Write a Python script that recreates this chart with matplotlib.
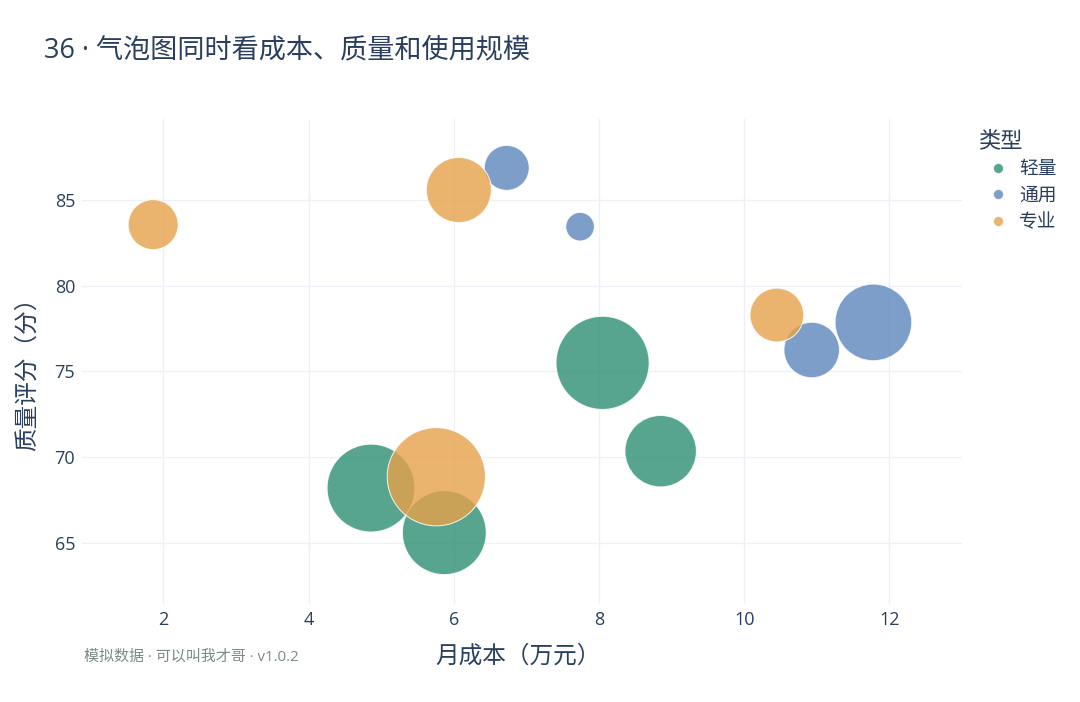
import matplotlib.pyplot as plt
from matplotlib.lines import Line2D

plt.rcParams['font.family'] = ['Open Sans', 'Noto Sans CJK SC', 'DejaVu Sans']

# data
categories = ['轻量', '通用', '专业']
colors = {'轻量': '#2d8e73', '通用': '#5b86bb', '专业': '#e7a14a'}

cost = [8.05, 8.85, 4.86, 5.87,
        6.73, 7.74, 10.93, 11.78,
        1.86, 6.07, 10.45, 5.76]
quality = [75.5, 70.35, 68.2, 65.6,
           86.87, 83.44, 76.25, 77.86,
           83.56, 85.58, 78.29, 68.86]
usage = [90, 53, 80, 73,
         21, 8.5, 32, 61,
         26, 44, 30, 100]
kind = ['轻量'] * 4 + ['通用'] * 4 + ['专业'] * 4

text_color = '#2a3f5f'
grid_color = '#eef0f7'
size_scale = 50

fig = plt.figure(figsize=(10.8, 7.02), dpi=100)
ax = fig.add_axes([82 / 1080, 1 - 604 / 702, 880 / 1080, 485 / 702])

for cat in categories:
    xs = [c for c, k in zip(cost, kind) if k == cat]
    ys = [q for q, k in zip(quality, kind) if k == cat]
    ss = [u * size_scale for u, k in zip(usage, kind) if k == cat]
    ax.scatter(xs, ys, s=ss, color=colors[cat], alpha=0.8,
               edgecolors='white', linewidths=0.8, zorder=3)

ax.set_xlim(0.88, 13.0)
ax.set_ylim(61.44, 89.72)
ax.set_xticks([2, 4, 6, 8, 10, 12])
ax.set_yticks([65, 70, 75, 80, 85])
ax.grid(True, color=grid_color, linewidth=1)
ax.set_axisbelow(True)
for sp in ax.spines.values():
    sp.set_visible(False)
ax.tick_params(length=0, labelsize=13, labelcolor=text_color, pad=5)

# axis titles placed in figure coordinates like the reference
fig.text(518 / 1080, 1 - 657 / 702, '月成本（万元）', fontsize=17,
         color=text_color, ha='center', va='center')
fig.text(28 / 1080, 1 - 368 / 702, '质量评分（分）', fontsize=17,
         color=text_color, ha='center', va='center', rotation=90)

fig.text(44 / 1080, 1 - 50 / 702, '36 · 气泡图同时看成本、质量和使用规模',
         fontsize=19.5, color=text_color, va='center', ha='left')
fig.text(84 / 1080, 1 - 657 / 702, '模拟数据 · 可以叫我才哥 · v1.0.2',
         fontsize=10.8, color='#7a8a85', va='center', ha='left')

handles = [Line2D([], [], marker='o', linestyle='none', markersize=7.5,
                  markerfacecolor=colors[c], markeredgecolor='white',
                  alpha=0.8, label=c) for c in categories]
leg = ax.legend(handles=handles, title='类型', loc='upper left',
                bbox_to_anchor=(979 / 1080, 1 - 131 / 702),
                bbox_transform=fig.transFigure, frameon=False,
                fontsize=13.5, title_fontsize=16, labelspacing=0.45,
                handlelength=2.0, handletextpad=0.15,
                borderaxespad=0, borderpad=0)
leg._legend_box.align = 'left'
plt.setp(leg.get_title(), color=text_color)
for t in leg.get_texts():
    t.set_color(text_color)

fig.savefig('out.png', dpi=100, facecolor='white')
